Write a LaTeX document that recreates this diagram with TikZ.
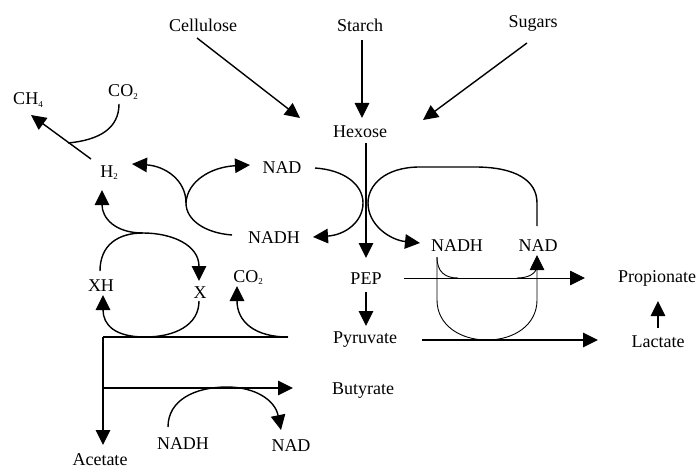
\documentclass[tikz,border=0pt]{standalone}
\usepackage{fontspec}
\setmainfont{Liberation Serif}
\usetikzlibrary{arrows.meta}
\newcommand{\sbs}[1]{{\fontsize{9}{9}\selectfont\raisebox{-2.5pt}{#1}}}
\begin{document}
\begin{tikzpicture}[x=1pt,y=-1pt,
  lbl/.style={inner sep=0pt,anchor=base,font=\fontsize{18}{20}\selectfont},
  ln/.style={line width=1.4pt},
  thinln/.style={line width=0.9pt},
  arr/.style={ln,-{Triangle[length=15pt,width=14.5pt]}},
  thinarr/.style={thinln,-{Triangle[length=15pt,width=14.5pt]}}]
\useasboundingbox (0,0) rectangle (698,468);
% labels
\node[lbl] (cellulose) at (203,32) {Cellulose};
\node[lbl] (starch) at (360,32) {Starch};
\node[lbl] (sugars) at (533,28) {Sugars};
\node[lbl] (hexose) at (360,137) {Hexose};
\node[lbl] (ch4) at (28,105) {CH\sbs{4}};
\node[lbl] (co2a) at (123,97) {CO\sbs{2}};
\node[lbl] (h2) at (109,177) {H\sbs{2}};
\node[lbl] (nadL) at (282,173) {NAD};
\node[lbl] (nadhL) at (274,243) {NADH};
\node[lbl] (xh) at (101,291) {XH};
\node[lbl] (xx) at (200,298) {X};
\node[lbl] (co2b) at (248,282) {CO\sbs{2}};
\node[lbl] (pep) at (366,284) {PEP};
\node[lbl] (pyruvate) at (365,343) {Pyruvate};
\node[lbl] (nadhR) at (457,251) {NADH};
\node[lbl] (nadR) at (538,251) {NAD};
\node[lbl] (propionate) at (657,282) {Propionate};
\node[lbl] (lactate) at (658,347) {Lactate};
\node[lbl] (butyrate) at (363,394) {Butyrate};
\node[lbl] (nadhB) at (183,449) {NADH};
\node[lbl] (nadB) at (291,451) {NAD};
\node[lbl] (acetate) at (100,465) {Acetate};
% junction / end coordinates
\coordinate (celA) at (197,38);  \coordinate (celB) at (300,118);
\coordinate (staA) at (362,40);  \coordinate (staB) at (362,118);
\coordinate (sugA) at (527,43);  \coordinate (sugB) at (423,120);
\coordinate (h2a) at (91,159);   \coordinate (ch4b) at (31,115);
\coordinate (co2aA) at (119,104); \coordinate (co2aB) at (68,143);
\coordinate (nadhLa) at (232,235); \coordinate (jA) at (186,203);
\coordinate (h2r) at (132,164);  \coordinate (nadLl) at (250,165);
\coordinate (nadLr) at (315,168); \coordinate (nadhLr) at (313,237);
\coordinate (hexA) at (366,143); \coordinate (pepT) at (366,258);
\coordinate (nadRtop) at (537,226); \coordinate (nadhRl) at (420,243);
\coordinate (pepB) at (366,292); \coordinate (pyrT) at (366,326);
\coordinate (pepR) at (404,278); \coordinate (propL) at (585,278);
\coordinate (pyrR) at (422,340); \coordinate (lacL) at (598,340);
\coordinate (lacT) at (658,328); \coordinate (propB) at (658,301);
\coordinate (nadhRb) at (437,257); \coordinate (nadRb) at (537,255);
\coordinate (jB) at (143,233);   \coordinate (h2b) at (102,190);
\coordinate (xhT) at (100,271);  \coordinate (xT) at (199,281);
\coordinate (xB) at (199,301);   \coordinate (xhB) at (103,295);
\coordinate (corner) at (103,337); \coordinate (jC) at (145,337);
\coordinate (pyrL) at (288,337); \coordinate (co2bB) at (237,286);
\coordinate (acT) at (103,445);
\coordinate (butA) at (103,388); \coordinate (butL) at (293,388);
\coordinate (nadhBt) at (168,427); \coordinate (nadBt) at (281,430);
% connectors
\draw[arr] (celA) -- (celB);
\draw[arr] (staA) -- (staB);
\draw[arr] (sugA) -- (sugB);
\draw[arr] (h2a) -- (ch4b);
\draw[ln] (co2aA) .. controls (119,128) and (100,140) .. (co2aB);
\draw[arr] (nadhLa) .. controls (205,233) and (186,220) .. (jA)
   .. controls (186,180) and (165,166) .. (h2r);
\draw[arr] (jA) .. controls (187,182) and (210,167) .. (nadLl);
\draw[arr] (nadLr) .. controls (345,170) and (363,185) .. (363,203)
   .. controls (363,222) and (345,235) .. (nadhLr);
\draw[arr] (hexA) -- (pepT);
\draw[arr] (nadRtop) -- (537,203) .. controls (537,180) and (515,167) .. (475,167)
   -- (420,167) .. controls (385,167) and (368,185) .. (368,203)
   .. controls (368,225) and (390,240) .. (nadhRl);
\draw[arr] (pepB) -- (pyrT);
\draw[thinarr] (pepR) -- (propL);
\draw[arr] (pyrR) -- (lacL);
\draw[arr] (lacT) -- (propB);
\draw[thinarr] (nadhRb) -- (437,300) .. controls (437,325) and (460,340) .. (487,340)
   .. controls (514,340) and (537,325) .. (537,300) -- (nadRb);
\draw[thinln] (nadhRb) .. controls (437,272) and (445,278) .. (458,278);
\draw[thinln] (517,278) .. controls (528,278) and (537,274) .. (537,265);
\draw[arr] (jB) .. controls (115,233) and (102,218) .. (h2b);
\draw[arr] (xhT) .. controls (100,245) and (118,233) .. (jB)
   .. controls (172,233) and (199,245) .. (xT);
\draw[ln] (corner) -- (pyrL);
\draw[arr] (corner) -- (acT);
\draw[arr] (jC) .. controls (115,337) and (103,325) .. (xhB);
\draw[ln] (xB) .. controls (199,325) and (175,337) .. (jC);
\draw[arr] (pyrL) .. controls (255,337) and (237,322) .. (co2bB);
\draw[arr] (butA) -- (butL);
\draw[arr] (nadhBt) .. controls (168,400) and (195,387) .. (227,387)
   .. controls (255,387) and (275,400) .. (nadBt);
\end{tikzpicture}
\end{document}
